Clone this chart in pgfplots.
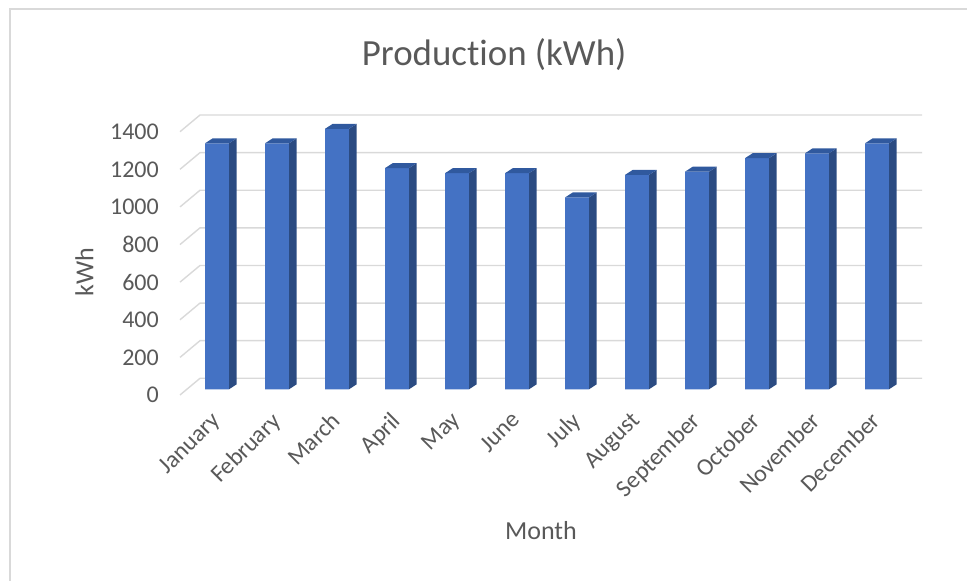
\documentclass[border=0pt]{standalone}
\usepackage{pgfplots}
\usepackage{pgfplotstable}
\pgfplotsset{compat=1.18}
\usepackage{fontspec}
\setmainfont{Carlito}[Ligatures={NoCommon}]

\definecolor{txt}{HTML}{595959}
\definecolor{gridc}{HTML}{D9D9D9}
\definecolor{barfront}{HTML}{4472C4}
\definecolor{barside}{HTML}{2B4B82}
\definecolor{bartop}{HTML}{30599E}

% monthly production, kWh
\pgfplotstableread{
x y
0 1308
1 1308
2 1385
3 1176
4 1149
5 1149
6 1020
7 1140
8 1157
9 1229
10 1255
11 1308
}\prodtable

% side and top faces of a 3-D column, drawn at the top of its front face
\pgfdeclareplotmark{colside}{%
  \pgfmathsetmacro\colh{\rawy*0.18807}%
  \pgfsetfillcolor{barside}%
  \pgfpathmoveto{\pgfqpoint{12pt}{0pt}}%
  \pgfpathlineto{\pgfpoint{12pt}{-\colh pt}}%
  \pgfpathlineto{\pgfpoint{19.7pt}{5pt-\colh pt}}%
  \pgfpathlineto{\pgfpoint{19.7pt}{5pt}}%
  \pgfpathclose
  \pgfusepathqfill
  \pgfsetfillcolor{bartop}%
  \pgfpathmoveto{\pgfqpoint{-12pt}{0pt}}%
  \pgfpathlineto{\pgfqpoint{12pt}{0pt}}%
  \pgfpathlineto{\pgfqpoint{19.7pt}{5pt}}%
  \pgfpathlineto{\pgfqpoint{-4.3pt}{5pt}}%
  \pgfpathclose
  \pgfusepathqfill
}

\begin{document}
\begin{tikzpicture}
\useasboundingbox (0pt,0pt) rectangle (967pt,581pt);
\draw[gridc, line width=1.5pt] (10pt,0pt) -- (10pt,572pt) -- (967pt,572pt);
\begin{axis}[
  at={(180pt,191.7pt)}, anchor=south west,
  x=60pt, y=0.18807pt,
  xmin=-0.6167, xmax=11.75, ymin=0, ymax=1460,
  clip=false,
  axis line style={draw=none},
  tick style={draw=none},
  scaled y ticks=false,
  /pgf/number format/assume math mode=true,
  /pgf/number format/1000 sep={},
  ytick={0,200,...,1400},
  xtick={0,...,11},
  xticklabels={January,February,March,April,May,June,July,August,September,October,November,December},
  tick label style={font=\fontsize{24}{28}\selectfont, text=txt},
  yticklabel style={anchor=east, inner sep=0pt, xshift=-21pt, yshift=-5.7pt},
  xticklabel style={inner sep=0pt, xshift=-7pt, yshift=-21pt, rotate=45, anchor=north east},
  every axis title shift=0pt,
  title={Production (kWh)},
  title style={at={(axis description cs:0.4234,1.181)}, anchor=base,
    font=\fontsize{36.9}{44}\selectfont, text=txt},
  xlabel={Month},
  xlabel style={at={(axis description cs:0.4865,-0.5488)}, anchor=base,
    font=\fontsize{26}{31}\selectfont, text=txt},
  ylabel={kWh},
  ylabel style={at={(axis description cs:-0.1168,0.4272)}, anchor=base,
    font=\fontsize{26}{31}\selectfont, text=txt},
]
% floor, side wall and back wall grid
\pgfplotsinvokeforeach{0,200,400,600,800,1000,1200,1400}{
  \draw[gridc, line width=1.4pt]
    ([yshift=-5.7pt]axis cs:-0.6167,#1) -- ++(20pt,16.7pt)
    -- ([yshift=11pt]axis cs:11.75,#1);
}
\addplot[ybar, bar width=24pt, fill=barfront, draw=none] table[x=x, y=y] {\prodtable};
\addplot[only marks, mark=colside, visualization depends on={rawy\as\rawy}]
  table[x=x, y=y] {\prodtable};
\end{axis}
\end{tikzpicture}
\end{document}
